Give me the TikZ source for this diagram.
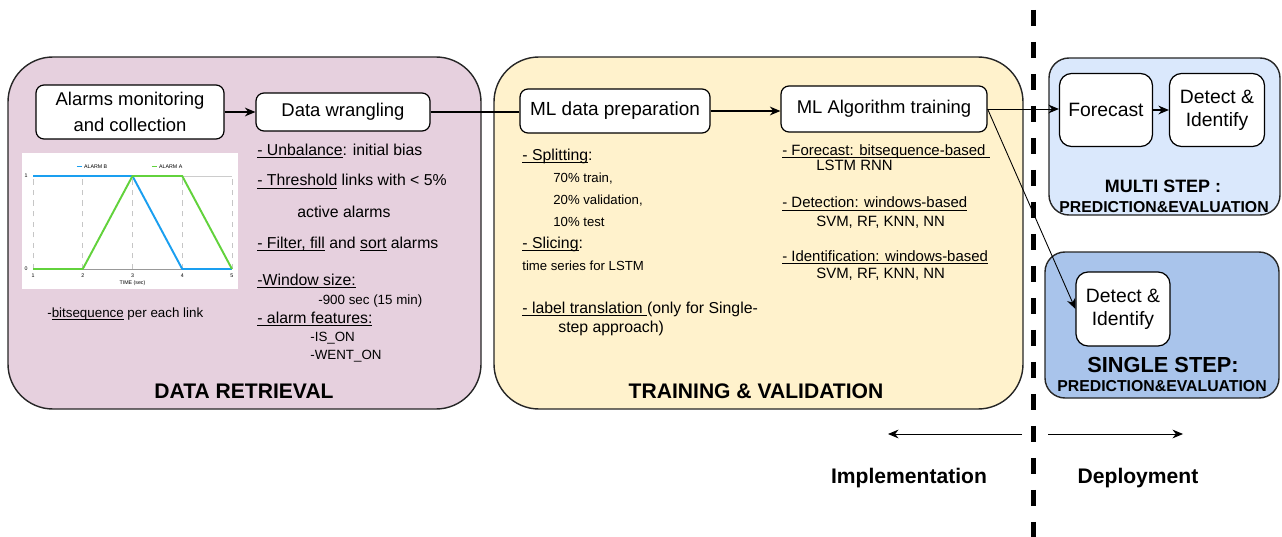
\documentclass[tikz,border=0pt]{standalone}
\usepackage{fontspec}
\setmainfont{Liberation Sans}
\usetikzlibrary{arrows.meta, positioning}
\definecolor{pinkbox}{HTML}{E6D0DE}
\definecolor{yellowbox}{HTML}{FFF2CC}
\definecolor{lightblue}{HTML}{DAE8FC}
\definecolor{midblue}{HTML}{A9C4EB}
\definecolor{alarmblue}{HTML}{1A9FF0}
\definecolor{alarmgreen}{HTML}{62D23C}
\newcommand{\fsz}[1]{\fontsize{#1}{1.2\dimexpr#1pt\relax}\selectfont}
\newcommand{\ulin}[1]{\setbox0\hbox{#1}\rlap{\rule[-1.7pt]{\wd0}{0.5pt}}\box0\relax}

\begin{document}
\begin{tikzpicture}[x=0.02cm, y=-0.02cm,
    stage/.style={draw=black!85, line width=0.8pt, rounded corners=0.9cm},
    proc/.style={draw, fill=white, line width=0.7pt, rounded corners=0.16cm, align=center, inner sep=1pt, font=\fsz{10.5}},
    txt/.style={anchor=base west, inner sep=0pt, font=\fsz{9}},
    small/.style={txt, font=\fsz{7.5}},
    algtxt/.style={txt, font=\fsz{8.5}},
    title/.style={inner sep=0pt, font=\bfseries\fsz{12}},
    flow/.style={-{Stealth[length=6pt,width=5pt]}, line width=0.6pt}]
    \useasboundingbox (0,0) rectangle (1282,537);

    % stage containers
    \draw[stage, fill=pinkbox] (8,57) rectangle (481,409);
    \draw[stage, fill=yellowbox] (494,57) rectangle (1023,409);
    \draw[stage, fill=lightblue, rounded corners=0.4cm] (1049,58) rectangle (1280,215);
    \draw[stage, fill=midblue, rounded corners=0.4cm] (1045,252) rectangle (1279,398);

    % implementation / deployment split
    \draw[line width=0.1cm, dash pattern=on 0.32cm off 0.32cm] (1033,10) -- (1033,537);

    % process blocks
    \node[proc, minimum width=3.76cm, minimum height=1.08cm] (alarms) at (130,112) {Alarms monitoring\\[2pt] and collection};
    \node[proc, minimum width=3.48cm, minimum height=0.76cm] (wrangle) at (343,112) {Data wrangling};
    \node[proc, font=\fsz{10.8}, minimum width=3.8cm, minimum height=0.88cm] (prep) at (615,111) {ML data preparation};
    \node[proc, minimum width=4.12cm, minimum height=0.92cm] (train) at (884,109) {ML Algorithm training};
    \node[proc, font=\fsz{11}, rounded corners=0.24cm, minimum width=1.86cm, minimum height=1.46cm] (forecast) at (1106,110) {Forecast};
    \node[proc, font=\fsz{11}, rounded corners=0.24cm, minimum width=1.9cm, minimum height=1.46cm] (multidet) at (1217,110) {Detect \&\\ Identify};
    \node[proc, font=\fsz{11}, rounded corners=0.24cm, minimum width=1.88cm, minimum height=1.48cm] (singledet) at (1123,309) {Detect \&\\ Identify};

    % connectors
    \draw[flow] (alarms) -- (alarms -| wrangle.west);
    \draw[line width=0.6pt] (wrangle.east) -- (wrangle.east -| prep.west);
    \draw[flow] (prep.east) -- (prep.east -| train.west);
    \draw[flow, line width=0.5pt] (train.east) -- (train.east -| forecast.west);
    \draw[flow] (forecast) -- (multidet);
    \draw[flow, line width=0.5pt] (train.east) -- (singledet.west);

    % alarm bitsequence chart
    \fill[white] (22,153) rectangle (238,289);
    \begin{scope}[shift={(33,269)}, x=0.995cm, y=1.86cm]
        \foreach \t in {0,...,4}
            \draw[gray!45, dashed, line width=0.3pt] (\t,0) -- (\t,1);
        \draw[gray!40, line width=0.3pt] (0,1) -- (4,1);
        \draw[gray!80, line width=0.5pt] (0,0) -- (4,0);
        \draw[alarmblue, line width=1.1pt] (0,1) -- (2,1) -- (3,0) -- (4,0);
        \draw[alarmgreen, line width=1.1pt] (0,0) -- (1,0) -- (2,1) -- (3,1) -- (4,0);
        \foreach \t in {1,...,5}
            \node[font=\fsz{3}, inner sep=0pt] (tick\t) at (\t-1,-0.07) {\t};
        \node[font=\fsz{3}, inner sep=0pt] (yone) at (-0.14,1) {1};
        \node[font=\fsz{3}, inner sep=0pt] (yzero) at (-0.14,0) {0};
        \node[font=\fsz{3}, inner sep=0pt] (taxis) at (2,-0.15) {TIME (sec)};
        \draw[alarmblue, line width=0.6pt] (0.88,1.1) -- (0.98,1.1);
        \node[font=\fsz{3}, anchor=west, inner sep=0pt] (legb) at (1.02,1.1) {ALARM B};
        \draw[alarmgreen, line width=0.6pt] (2.39,1.1) -- (2.49,1.1);
        \node[font=\fsz{3}, anchor=west, inner sep=0pt] (lega) at (2.53,1.1) {ALARM A};
    \end{scope}
    \node[txt, font=\fsz{7.6}] (bits) at (47,317) {-\ulin{bitsequence} per each link};

    % data wrangling notes
    \node[txt] (unb) at (257,155) {\ulin{- Unbalance}: initial bias};
    \node[txt] (thr) at (257,186) {\ulin{- Threshold} links with < 5\%};
    \node[txt] (act) at (297,217) {active alarms};
    \node[txt] (flt) at (257,248) {\ulin{- Filter, fill} and \ulin{sort} alarms};
    \node[txt] (win) at (257,285) {\ulin{-Window size:}};
    \node[txt, font=\fsz{7.6}] (wsz) at (318,304) {-900 sec (15 min)};
    \node[txt] (feat) at (257,323) {\ulin{- alarm features:}};
    \node[txt, font=\fsz{7.6}] (ison) at (310,341) {-IS\_ON};
    \node[txt, font=\fsz{7.6}] (went) at (310,359) {-WENT\_ON};

    % data preparation notes
    \node[txt] (split) at (522,160) {\ulin{- Splitting}:};
    \node[small] (ptrain) at (553,182) {70\% train,};
    \node[small] (pval) at (553,204) {20\% validation,};
    \node[small] (ptest) at (553,226) {10\% test};
    \node[txt] (slice) at (522,248) {\ulin{- Slicing}:};
    \node[small] (tser) at (522,270) {time series for LSTM};
    \node[txt] (label) at (522,313) {\ulin{- label translation\ }(only for Single-};
    \node[txt] (labeltwo) at (558,332) {step approach)};

    % training notes
    \node[algtxt] (fc) at (782,155) {\ulin{- Forecast: bitsequence-based\ }};
    \node[algtxt] (lstm) at (816,171) {LSTM RNN};
    \node[algtxt] (det) at (782,208) {\ulin{- Detection: windows-based}};
    \node[algtxt] (svma) at (816,226) {SVM, RF, KNN, NN};
    \node[algtxt] (ident) at (782,261) {\ulin{- Identification: windows-based}};
    \node[algtxt] (svmb) at (816,278) {SVM, RF, KNN, NN};

    % stage titles
    \node[title] (dr) at (244,391) {DATA RETRIEVAL};
    \node[title] (tv) at (756,391) {TRAINING \& VALIDATION};
    \node[title, font=\bfseries\fsz{10.2}] (ms) at (1163,186) {MULTI STEP :};
    \node[title, font=\bfseries\fsz{9}] (mspe) at (1164,207) {PREDICTION\&EVALUATION};
    \node[title, font=\bfseries\fsz{12.4}] (ss) at (1163,365) {SINGLE STEP:};
    \node[title, font=\bfseries\fsz{9}] (sspe) at (1162,386) {PREDICTION\&EVALUATION};

    % phase arrows
    \coordinate (implstart) at (1022,434);
    \coordinate (implend) at (888,434);
    \coordinate (depstart) at (1048,434);
    \coordinate (depend) at (1183,434);
    \draw[flow, line width=0.5pt] (implstart) -- (implend);
    \draw[flow, line width=0.5pt] (depstart) -- (depend);
    \node[title, anchor=base] (impl) at (909,483) {Implementation};
    \node[title, anchor=base] (dep) at (1138,483) {Deployment};
\end{tikzpicture}
\end{document}
